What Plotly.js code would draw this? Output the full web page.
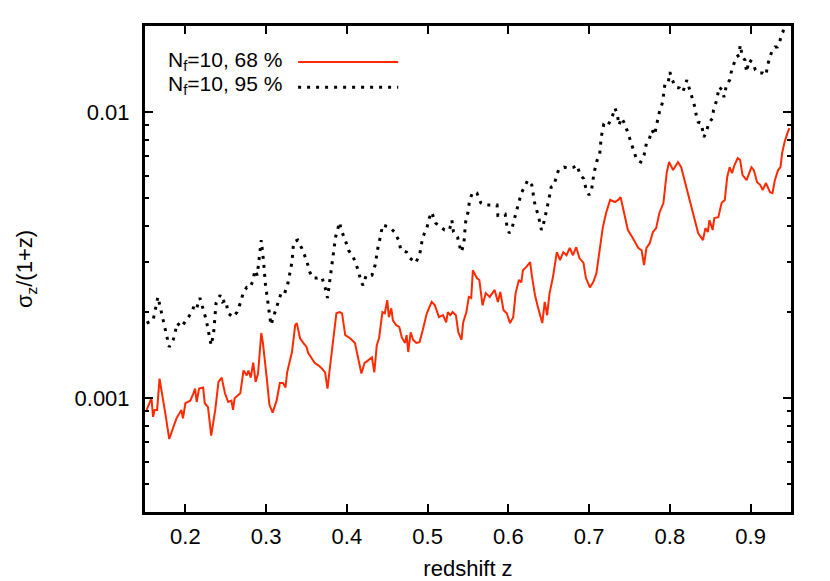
<!DOCTYPE html>
<html>
<head>
<meta charset="utf-8">
<script src="https://cdn.plot.ly/plotly-3.0.1.min.js"></script>
<style>
  html, body { margin: 0; padding: 0; background: #fff; }
  #chart { width: 830px; height: 581px; }
</style>
</head>
<body>
<div id="chart"></div>
<script>
// redshift values and sigma_z/(1+z)
const zRed = [0.152, 0.158, 0.160, 0.162, 0.165, 0.168, 0.175, 0.180, 0.185, 0.189, 0.195, 0.197, 0.200, 0.206, 0.210, 0.212,
  0.214, 0.217, 0.222, 0.224, 0.228, 0.232, 0.237, 0.241, 0.245, 0.249, 0.253, 0.257, 0.259, 0.261, 0.268, 0.272, 0.276,
  0.278, 0.281, 0.284, 0.287, 0.290, 0.294, 0.296, 0.301, 0.304, 0.308, 0.313, 0.317, 0.321, 0.324, 0.326, 0.332, 0.336,
  0.338, 0.342, 0.346, 0.350, 0.352, 0.356, 0.360, 0.365, 0.369, 0.373, 0.376, 0.379, 0.383, 0.387, 0.391, 0.394, 0.398,
  0.404, 0.410, 0.414, 0.418, 0.422, 0.424, 0.431, 0.434, 0.437, 0.440, 0.444, 0.447, 0.450, 0.452, 0.455, 0.457, 0.461,
  0.465, 0.468, 0.472, 0.474, 0.476, 0.479, 0.482, 0.486, 0.490, 0.494, 0.499, 0.505, 0.509, 0.514, 0.519, 0.523, 0.525,
  0.528, 0.531, 0.535, 0.538, 0.542, 0.544, 0.548, 0.551, 0.554, 0.556, 0.561, 0.564, 0.568, 0.572, 0.577, 0.583, 0.587,
  0.590, 0.594, 0.598, 0.602, 0.606, 0.609, 0.613, 0.616, 0.618, 0.622, 0.627, 0.629, 0.633, 0.637, 0.642, 0.645, 0.648,
  0.651, 0.655, 0.660, 0.664, 0.668, 0.672, 0.676, 0.680, 0.684, 0.688, 0.693, 0.696, 0.701, 0.705, 0.709, 0.713, 0.717,
  0.721, 0.726, 0.732, 0.736, 0.739, 0.742, 0.745, 0.748, 0.754, 0.761, 0.765, 0.768, 0.771, 0.775, 0.779, 0.783, 0.787,
  0.792, 0.796, 0.799, 0.804, 0.810, 0.814, 0.818, 0.822, 0.827, 0.831, 0.835, 0.841, 0.844, 0.847, 0.849, 0.853, 0.855,
  0.860, 0.864, 0.868, 0.871, 0.874, 0.877, 0.880, 0.884, 0.887, 0.890, 0.895, 0.898, 0.901, 0.904, 0.908, 0.912, 0.915,
  0.919, 0.924, 0.927, 0.930, 0.934, 0.937, 0.939, 0.942, 0.946, 0.948];
const sigRed = [0.00091, 0.00100, 0.00086, 0.00091, 0.00091, 0.00117, 0.00089, 0.00072, 0.00079, 0.00085, 0.00091, 0.00085,
  0.00096, 0.00098, 0.00104, 0.00108, 0.00097, 0.00108, 0.00109, 0.00096, 0.00093, 0.00074, 0.00091, 0.00114, 0.00118,
  0.00104, 0.00097, 0.00098, 0.00091, 0.00100, 0.00104, 0.00125, 0.00120, 0.00125, 0.00118, 0.00133, 0.00114, 0.00122,
  0.00169, 0.00156, 0.00116, 0.00095, 0.00089, 0.00098, 0.00113, 0.00113, 0.00109, 0.00123, 0.00145, 0.00180, 0.00183,
  0.00162, 0.00156, 0.00151, 0.00144, 0.00139, 0.00133, 0.00130, 0.00127, 0.00123, 0.00108, 0.00128, 0.00156, 0.00198,
  0.00200, 0.00198, 0.00166, 0.00162, 0.00156, 0.00139, 0.00122, 0.00133, 0.00134, 0.00139, 0.00123, 0.00153, 0.00163,
  0.00200, 0.00198, 0.00220, 0.00192, 0.00206, 0.00187, 0.00180, 0.00177, 0.00163, 0.00156, 0.00166, 0.00145, 0.00170,
  0.00160, 0.00156, 0.00157, 0.00173, 0.00198, 0.00217, 0.00211, 0.00192, 0.00195, 0.00184, 0.00200, 0.00195, 0.00200,
  0.00195, 0.00170, 0.00160, 0.00184, 0.00200, 0.00226, 0.00224, 0.00280, 0.00263, 0.00259, 0.00211, 0.00233, 0.00226,
  0.00239, 0.00217, 0.00235, 0.00203, 0.00198, 0.00183, 0.00192, 0.00233, 0.00259, 0.00254, 0.00280, 0.00287, 0.00299,
  0.00269, 0.00229, 0.00206, 0.00183, 0.00217, 0.00195, 0.00233, 0.00263, 0.00324, 0.00304, 0.00324, 0.00316, 0.00335,
  0.00316, 0.00337, 0.00309, 0.00297, 0.00263, 0.00244, 0.00254, 0.00273, 0.00329, 0.00396, 0.00444, 0.00493, 0.00485,
  0.00493, 0.00504, 0.00465, 0.00429, 0.00387, 0.00363, 0.00335, 0.00329, 0.00292, 0.00335, 0.00348, 0.00381, 0.00393,
  0.00444, 0.00481, 0.00612, 0.00669, 0.00627, 0.00669, 0.00642, 0.00578, 0.00521, 0.00465, 0.00412, 0.00378, 0.00357,
  0.00393, 0.00381, 0.00419, 0.00387, 0.00426, 0.00429, 0.00481, 0.00493, 0.00593, 0.00642, 0.00612, 0.00653, 0.00691,
  0.00680, 0.00602, 0.00578, 0.00612, 0.00642, 0.00627, 0.00569, 0.00556, 0.00534, 0.00565, 0.00525, 0.00521, 0.00578,
  0.00627, 0.00642, 0.00719, 0.00785, 0.00851, 0.00879];

const zBlack = [0.152, 0.160, 0.166, 0.169, 0.175, 0.180, 0.185, 0.190, 0.195, 0.202, 0.208, 0.211, 0.214, 0.218, 0.222,
  0.226, 0.230, 0.232, 0.235, 0.238, 0.243, 0.246, 0.250, 0.253, 0.259, 0.264, 0.268, 0.272, 0.276, 0.280, 0.284, 0.286,
  0.289, 0.292, 0.294, 0.297, 0.299, 0.303, 0.306, 0.311, 0.315, 0.319, 0.323, 0.327, 0.332, 0.334, 0.339, 0.344, 0.350,
  0.354, 0.358, 0.363, 0.369, 0.373, 0.376, 0.379, 0.382, 0.386, 0.391, 0.393, 0.398, 0.402, 0.408, 0.413, 0.418, 0.420,
  0.424, 0.431, 0.435, 0.439, 0.442, 0.444, 0.453, 0.459, 0.464, 0.467, 0.474, 0.478, 0.485, 0.490, 0.494, 0.499, 0.502,
  0.505, 0.510, 0.516, 0.521, 0.527, 0.530, 0.532, 0.537, 0.540, 0.542, 0.545, 0.547, 0.550, 0.552, 0.556, 0.561, 0.566,
  0.571, 0.577, 0.583, 0.586, 0.587, 0.592, 0.596, 0.598, 0.601, 0.604, 0.607, 0.610, 0.613, 0.616, 0.620, 0.624, 0.629,
  0.631, 0.633, 0.637, 0.641, 0.644, 0.647, 0.650, 0.653, 0.656, 0.662, 0.669, 0.675, 0.681, 0.685, 0.689, 0.693, 0.696,
  0.700, 0.703, 0.706, 0.710, 0.713, 0.715, 0.718, 0.722, 0.728, 0.732, 0.735, 0.737, 0.740, 0.743, 0.746, 0.748, 0.751,
  0.755, 0.759, 0.764, 0.768, 0.771, 0.774, 0.778, 0.781, 0.784, 0.787, 0.791, 0.794, 0.798, 0.800, 0.803, 0.807, 0.812,
  0.816, 0.821, 0.825, 0.828, 0.831, 0.833, 0.835, 0.839, 0.842, 0.845, 0.848, 0.853, 0.854, 0.858, 0.861, 0.865, 0.867,
  0.870, 0.874, 0.876, 0.879, 0.882, 0.886, 0.887, 0.890, 0.893, 0.895, 0.898, 0.902, 0.906, 0.910, 0.915, 0.919, 0.921,
  0.924, 0.926, 0.930, 0.933, 0.936, 0.938, 0.940, 0.943];
const sigBlack = [0.00183, 0.00187, 0.00226, 0.00208, 0.00177, 0.00151, 0.00160, 0.00183, 0.00177, 0.00190, 0.00200,
  0.00211, 0.00206, 0.00224, 0.00206, 0.00187, 0.00163, 0.00153, 0.00169, 0.00215, 0.00229, 0.00217, 0.00220, 0.00198,
  0.00192, 0.00200, 0.00215, 0.00235, 0.00244, 0.00243, 0.00259, 0.00280, 0.00269, 0.00311, 0.00357, 0.00297, 0.00252,
  0.00208, 0.00180, 0.00200, 0.00217, 0.00235, 0.00233, 0.00252, 0.00299, 0.00351, 0.00357, 0.00335, 0.00304, 0.00276,
  0.00263, 0.00263, 0.00265, 0.00244, 0.00224, 0.00259, 0.00311, 0.00366, 0.00412, 0.00387, 0.00357, 0.00329, 0.00311,
  0.00285, 0.00254, 0.00248, 0.00269, 0.00269, 0.00292, 0.00343, 0.00371, 0.00403, 0.00396, 0.00381, 0.00357, 0.00329,
  0.00324, 0.00309, 0.00297, 0.00316, 0.00366, 0.00393, 0.00426, 0.00447, 0.00409, 0.00396, 0.00387, 0.00387, 0.00419,
  0.00381, 0.00366, 0.00337, 0.00324, 0.00351, 0.00412, 0.00447, 0.00493, 0.00525, 0.00521, 0.00481, 0.00473, 0.00473,
  0.00473, 0.00473, 0.00436, 0.00440, 0.00440, 0.00403, 0.00378, 0.00387, 0.00419, 0.00454, 0.00493, 0.00521, 0.00547,
  0.00578, 0.00556, 0.00513, 0.00473, 0.00436, 0.00387, 0.00412, 0.00447, 0.00493, 0.00547, 0.00551, 0.00627, 0.00642,
  0.00637, 0.00642, 0.00653, 0.00602, 0.00586, 0.00542, 0.00513, 0.00534, 0.00612, 0.00680, 0.00707, 0.00818, 0.00901,
  0.00886, 0.00953, 0.01033, 0.00976, 0.00901, 0.00953, 0.00923, 0.00879, 0.00845, 0.00785, 0.00725, 0.00680, 0.00669,
  0.00707, 0.00779, 0.00798, 0.00865, 0.00831, 0.00915, 0.01000, 0.01084, 0.01263, 0.01273, 0.01380, 0.01294, 0.01223,
  0.01213, 0.01175, 0.01294, 0.01194, 0.01119, 0.01041, 0.00961, 0.00923, 0.00915, 0.00818, 0.00845, 0.00915, 0.00953,
  0.01016, 0.01101, 0.01223, 0.01194, 0.01128, 0.01242, 0.01294, 0.01380, 0.01460, 0.01558, 0.01584, 0.01716, 0.01558,
  0.01520, 0.01380, 0.01520, 0.01496, 0.01403, 0.01369, 0.01369, 0.01347, 0.01460, 0.01558, 0.01622, 0.01689, 0.01689,
  0.01758, 0.01861, 0.01906, 0.02080];

const xTicks = [0.2, 0.3, 0.4, 0.5, 0.6, 0.7, 0.8, 0.9];
const yMajor = [0.001, 0.01];
const yMajorText = ['0.001', '0.01'];
const yMinor = [0.0004, 0.0005, 0.0006, 0.0007, 0.0008, 0.0009, 0.002, 0.003, 0.004, 0.005, 0.006, 0.007, 0.008, 0.009, 0.02];
const legendNames = ['N<sub>f</sub>=10, 68 %', 'N<sub>f</sub>=10, 95 %'];

const redColor = '#ff2a00';
const fontFamily = '"Liberation Sans", Arial, Helvetica, sans-serif';
const fontSize = 22;

const traces = [
    {
        x: zRed, y: sigRed, type: 'scatter', mode: 'lines', name: legendNames[0],
        line: { color: redColor, width: 2 }
    },
    {
        x: zBlack, y: sigBlack, type: 'scatter', mode: 'lines', name: legendNames[1],
        line: { color: '#000', width: 3, dash: '3px,6px' }
    }
];

// gnuplot style key: text on the left, line sample on the right
const keyRows = [0.929, 0.878];
const annotations = legendNames.map((t, i) => ({
    xref: 'paper', yref: 'paper', x: 0.215, y: keyRows[i],
    xanchor: 'right', yanchor: 'middle', showarrow: false,
    text: t, font: { family: fontFamily, size: 21, color: '#000' }
}));
const shapes = [
    { type: 'line', xref: 'paper', yref: 'paper', x0: 0.237, x1: 0.392, y0: keyRows[0] - 0.003, y1: keyRows[0] - 0.003,
      line: { color: redColor, width: 2 } },
    { type: 'line', xref: 'paper', yref: 'paper', x0: 0.237, x1: 0.392, y0: keyRows[1] - 0.004, y1: keyRows[1] - 0.004,
      line: { color: '#000', width: 3, dash: '3px,6px' } }
];

const layout = {
    width: 830, height: 581,
    margin: { l: 145, r: 39, t: 26, b: 69 },
    paper_bgcolor: '#fff', plot_bgcolor: '#fff',
    font: { family: fontFamily, size: fontSize, color: '#000' },
    showlegend: false,
    xaxis: {
        range: [0.15, 0.95],
        tickmode: 'array', tickvals: xTicks, ticktext: xTicks.map(v => v.toFixed(1)),
        ticks: 'inside', ticklen: 8, tickwidth: 2, tickcolor: '#000',
        showline: true, linewidth: 3, linecolor: '#000', mirror: 'ticks',
        showgrid: false, zeroline: false, ticklabelstandoff: 3,
        title: { text: 'redshift z', standoff: 20, font: { size: fontSize } }
    },
    yaxis: {
        type: 'log',
        range: [Math.log10(0.0004), Math.log10(0.02)],
        tickmode: 'array', tickvals: yMajor, ticktext: yMajorText,
        ticks: 'inside', ticklen: 8, tickwidth: 2, tickcolor: '#000',
        minor: { tickmode: 'array', tickvals: yMinor, ticks: 'inside', ticklen: 4, tickwidth: 2, tickcolor: '#000', showgrid: false },
        showline: true, linewidth: 3, linecolor: '#000', mirror: 'ticks',
        showgrid: false, zeroline: false, ticklabelstandoff: 8,
        title: { text: 'σ<sub>z</sub>/(1+z)', standoff: 36, font: { size: fontSize } }
    },
    annotations: annotations,
    shapes: shapes
};

Plotly.newPlot('chart', traces, layout, { displayModeBar: false, staticPlot: true });
</script>
</body>
</html>
